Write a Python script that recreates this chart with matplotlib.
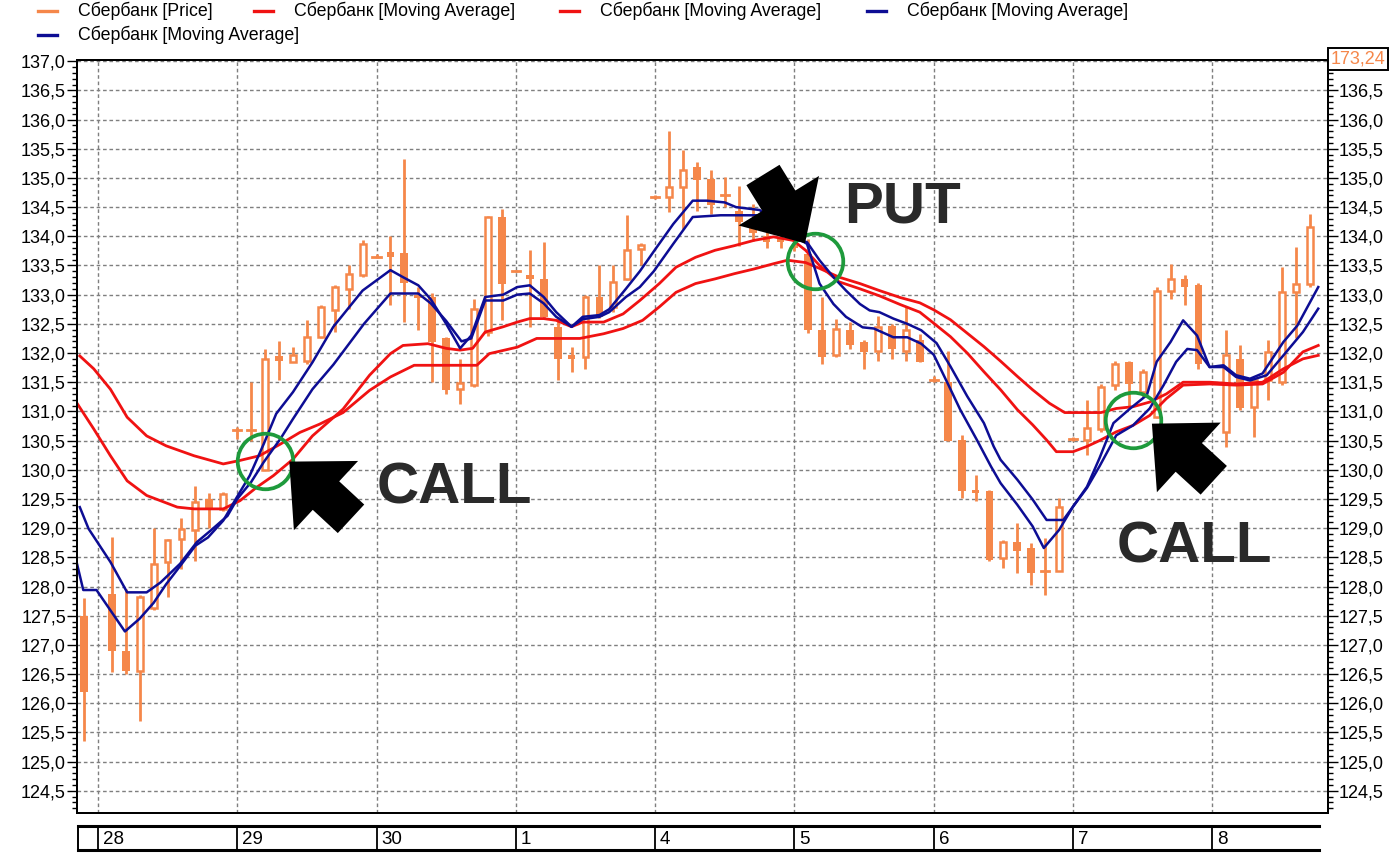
import matplotlib
matplotlib.use('Agg')
import matplotlib.pyplot as plt
from matplotlib.patches import Rectangle
from matplotlib.lines import Line2D
from matplotlib.ticker import MultipleLocator, FuncFormatter

plt.rcParams['font.family'] = ['Liberation Sans', 'DejaVu Sans']

# ---- data (hourly candles, index = bar number) ----
opens = [127.50, None, 127.87, 126.90, 126.56, 127.64, 128.42, 128.82, 128.96, 129.50,
         129.33, 130.68, 130.68, 130.00, 131.95, 131.84, 131.87, 132.27, 132.73, 133.10,
         133.33, 133.65, 133.73, 133.71, 133.00, 132.96, 132.25, 131.39, 131.45, 132.36,
         134.33, 133.40, 133.33, 133.27, 132.45, 131.96, 131.93, 132.96, 132.79, 133.27,
         133.78, 134.67, 134.67, 134.85, 135.18, 134.98, 134.70, 134.44, 134.30, 134.00,
         133.95, 133.85, 133.70, 132.39, 131.96, 132.39, 132.19, 132.04, 132.47, 132.04,
         132.22, 131.54, 131.51, 130.51, 129.66, 129.63, 128.49, 128.77, 128.66, 128.26,
         128.26, 130.53, 130.51, 130.70, 131.45, 131.85, 131.33, 130.90, 133.07, 133.27,
         133.16, None, 130.65, 131.90, 131.08, 131.53, 131.50, 133.04, 133.19]
highs = [127.80, None, 128.85, 127.95, 127.85, 129.00, 128.82, 129.17, 129.73, 129.61,
         129.62, 130.73, 131.50, 132.07, 132.20, 132.10, 132.56, 132.82, 133.16, 133.50,
         133.94, 133.70, 134.00, 135.33, 133.13, 133.02, 132.28, 131.90, 132.93, 134.35,
         134.47, 133.42, 133.76, 133.90, 132.62, 132.10, 133.00, 133.50, 133.50, 134.36,
         133.88, 134.70, 135.81, 135.48, 135.27, 135.13, 135.01, 134.87, 134.55, 134.10,
         134.05, 133.95, 133.95, 132.96, 132.59, 132.53, 132.22, 132.64, 132.50, 132.79,
         132.33, 131.60, 132.03, 130.60, 129.91, 129.65, 128.80, 129.09, 128.74, 128.83,
         129.51, 130.57, 131.20, 131.47, 131.87, 131.87, 131.73, 133.13, 133.53, 133.33,
         133.20, None, 132.39, 132.13, 131.56, 132.22, 133.47, 133.81, 134.39]
lows = [125.35, None, 126.53, 126.50, 125.70, 127.60, 127.82, 128.30, 128.44, 129.00,
        129.30, 130.53, 130.50, 130.00, 131.53, 131.84, 131.82, 132.25, 132.36, 132.76,
        133.30, 133.62, 132.82, 132.53, 132.39, 131.50, 131.30, 131.13, 131.42, 132.30,
        132.56, 133.38, 132.45, 132.60, 131.53, 131.68, 131.73, 132.60, 132.70, 133.25,
        133.50, 134.64, 134.42, 134.13, 134.44, 134.38, 134.50, 133.84, 133.92, 133.80,
        133.80, 133.75, 132.35, 131.82, 131.93, 132.07, 131.73, 131.87, 131.90, 131.87,
        131.84, 131.50, 130.49, 129.51, 129.46, 128.43, 128.32, 128.23, 128.03, 127.86,
        128.26, 130.50, 130.26, 130.65, 131.36, 131.10, 131.25, 130.88, 132.93, 132.82,
        131.73, None, 130.39, 131.02, 130.56, 131.19, 131.45, 132.25, 133.13]
closes = [126.20, None, 126.90, 126.55, 127.82, 128.38, 128.80, 128.99, 129.44, 129.33,
          129.59, 130.68, 130.67, 131.89, 131.86, 131.96, 132.27, 132.78, 133.13, 133.36,
          133.87, 133.65, 133.65, 133.20, 132.95, 132.19, 131.36, 131.48, 132.76, 134.33,
          133.19, 133.40, 133.27, 132.62, 131.90, 131.90, 132.96, 132.62, 133.22, 133.76,
          133.85, 134.67, 134.84, 135.14, 134.96, 134.53, 134.68, 134.24, 134.05, 133.90,
          133.90, 133.80, 132.39, 131.93, 132.41, 132.13, 132.02, 132.44, 132.07, 132.39,
          131.84, 131.54, 130.49, 129.63, 129.60, 128.46, 128.77, 128.60, 128.23, 128.26,
          129.37, 130.53, 130.71, 131.42, 131.82, 131.47, 131.67, 133.07, 133.27, 133.13,
          131.82, None, 131.96, 131.05, 131.53, 132.02, 133.04, 133.19, 134.16]

# moving averages, read at bar positions
red_slow_x = [-0.3, 0.7, 1.9, 3.1, 4.5, 5.9, 7.9, 10.0, 11.2, 12.6, 14.1, 15.5, 16.9, 18.6,
              20.5, 22.0, 23.7, 26.3, 28.2, 29.1, 31.1, 32.5, 35.6, 37.3, 38.7, 40.1, 41.3,
              42.5, 43.9, 45.3, 46.7, 48.1, 49.5, 50.5, 51.8, 52.8, 54.2, 55.7, 57.1, 58.6,
              60.0, 61.0, 62.2, 63.4, 64.6, 65.8, 67.0, 68.1, 69.3, 70.4, 73.0, 74.1, 75.3,
              76.5, 77.7, 78.9, 80.8, 82.7, 84.6, 86.1, 87.5, 88.6]
red_slow_y = [131.95, 131.73, 131.38, 130.90, 130.58, 130.41, 130.24, 130.10, 130.16, 130.24,
              130.44, 130.64, 130.78, 130.98, 131.36, 131.59, 131.79, 131.79, 131.79, 131.99,
              132.10, 132.25, 132.25, 132.33, 132.42, 132.56, 132.79, 133.04, 133.19, 133.27,
              133.36, 133.44, 133.53, 133.59, 133.55, 133.45, 133.30, 133.19, 133.07, 132.95,
              132.86, 132.74, 132.57, 132.34, 132.11, 131.86, 131.60, 131.37, 131.14, 130.98,
              130.98, 131.05, 131.08, 131.16, 131.30, 131.50, 131.50, 131.47, 131.50, 131.73,
              131.90, 131.96]
red_fast_x = [-0.5, 0.7, 1.9, 3.1, 4.5, 6.7, 7.9, 10.0, 11.2, 12.4, 13.6, 15.0, 16.4, 18.6,
              20.5, 22.0, 22.9, 24.7, 26.0, 27.0, 27.9, 28.8, 30.1, 31.1, 32.0, 33.0, 33.9,
              35.0, 35.8, 37.3, 38.7, 39.9, 41.3, 42.5, 43.9, 45.3, 46.7, 48.1, 49.5, 50.9,
              51.8, 52.8, 54.2, 55.7, 57.1, 58.6, 60.0, 61.0, 62.2, 63.4, 64.6, 65.8, 67.0,
              68.1, 69.1, 69.8, 71.0, 72.0, 72.9, 74.1, 75.3, 76.5, 77.7, 78.9, 80.8, 82.7,
              84.6, 86.1, 87.5, 88.6]
red_fast_y = [131.14, 130.70, 130.24, 129.81, 129.56, 129.36, 129.33, 129.33, 129.47, 129.70,
              129.90, 130.18, 130.58, 131.04, 131.62, 131.99, 132.13, 132.16, 132.08, 132.05,
              132.08, 132.36, 132.45, 132.53, 132.59, 132.59, 132.56, 132.45, 132.53, 132.53,
              132.67, 132.90, 133.19, 133.47, 133.64, 133.76, 133.84, 133.93, 133.99, 133.93,
              133.76, 133.50, 133.22, 133.10, 132.98, 132.83, 132.70, 132.51, 132.28, 132.00,
              131.68, 131.37, 131.03, 130.77, 130.51, 130.31, 130.31, 130.40, 130.50, 130.65,
              130.76, 130.93, 131.22, 131.45, 131.47, 131.45, 131.47, 131.67, 132.02, 132.13]
blue_fast_x = [-0.5, -0.05, 0.9, 2.94, 4.0, 5.0, 5.9, 6.9, 8.0, 8.9, 10.0, 10.9, 11.9, 12.9,
               13.8, 15.0, 16.4, 17.9, 20.0, 22.0, 22.9, 24.0, 24.9, 26.0, 27.0, 27.8, 28.8,
               30.1, 31.1, 32.0, 33.0, 33.9, 35.0, 35.8, 37.0, 37.7, 38.9, 39.9, 40.9, 42.3,
               43.7, 44.7, 46.0, 46.8, 48.5, 51.0, 51.9, 52.8, 53.8, 54.7, 55.9, 56.7, 58.1,
               59.1, 60.1, 61.0, 62.0, 62.9, 64.1, 65.1, 65.8, 67.0, 68.1, 68.9, 70.0, 71.0,
               72.0, 72.9, 73.9, 75.1, 76.3, 77.0, 78.0, 78.9, 79.9, 80.8, 81.8, 82.7, 83.7,
               84.6, 86.1, 87.1, 88.6]
blue_fast_y = [128.39, 127.94, 127.94, 127.23, 127.45, 127.72, 128.04, 128.35, 128.70, 128.84,
               129.13, 129.50, 129.90, 130.44, 130.96, 131.33, 131.84, 132.45, 133.07, 133.42,
               133.30, 133.16, 132.92, 132.50, 132.08, 132.30, 132.96, 133.00, 133.13, 133.16,
               132.96, 132.70, 132.45, 132.62, 132.65, 132.75, 133.10, 133.40, 133.74, 134.21,
               134.61, 134.61, 134.58, 134.50, 134.45, 134.00, 133.87, 133.19, 132.84, 132.62,
               132.44, 132.42, 132.27, 132.27, 132.16, 131.97, 131.48, 131.03, 130.51, 130.06,
               129.77, 129.40, 129.03, 128.66, 128.97, 129.37, 129.71, 130.20, 130.80, 131.05,
               131.28, 131.85, 132.19, 132.56, 132.30, 131.76, 131.79, 131.62, 131.56, 131.65,
               132.19, 132.47, 133.13]
blue_slow_x = [-0.3, 0.33, 1.9, 3.1, 4.5, 5.5, 6.9, 8.1, 9.1, 10.3, 11.0, 12.0, 12.9, 14.1,
               15.0, 16.4, 17.9, 20.1, 22.0, 24.0, 24.9, 26.0, 27.1, 27.8, 28.8, 30.1, 31.1,
               32.0, 33.0, 33.9, 35.0, 35.8, 37.0, 37.7, 38.9, 39.9, 40.9, 42.3, 43.7, 45.7,
               48.5, 51.0, 51.9, 52.8, 53.8, 54.7, 55.7, 56.4, 57.1, 58.1, 59.1, 60.1, 61.2,
               62.2, 63.4, 64.6, 65.3, 65.8, 67.0, 68.1, 69.1, 70.3, 71.0, 72.0, 72.9, 74.1,
               75.3, 76.5, 77.5, 78.4, 79.2, 79.9, 80.8, 81.8, 82.7, 83.7, 84.9, 86.1, 87.5,
               88.6]
blue_slow_y = [129.36, 128.99, 128.42, 127.90, 127.90, 128.07, 128.39, 128.76, 128.96, 129.21,
               129.50, 129.79, 130.13, 130.53, 130.87, 131.38, 131.80, 132.50, 133.02, 133.02,
               132.85, 132.55, 132.20, 132.25, 132.90, 132.90, 133.00, 133.02, 132.85, 132.62,
               132.45, 132.58, 132.62, 132.70, 132.96, 133.13, 133.40, 133.87, 134.33, 134.36,
               134.36, 133.95, 133.90, 133.59, 133.30, 133.07, 132.84, 132.73, 132.70, 132.59,
               132.50, 132.39, 132.17, 131.77, 131.26, 130.80, 130.40, 130.17, 129.83, 129.49,
               129.14, 129.14, 129.37, 129.69, 130.06, 130.59, 130.76, 131.05, 131.45, 131.85,
               132.07, 132.05, 131.76, 131.76, 131.59, 131.53, 131.62, 131.96, 132.36, 132.76]

day_labels = ['28', '29', '30', '1', '4', '5', '6', '7', '8']
day_start = [1, 11, 21, 31, 41, 51, 61, 71, 81]

series_labels = ['Сбербанк [Price]', 'Сбербанк [Moving Average]', 'Сбербанк [Moving Average]',
                 'Сбербанк [Moving Average]', 'Сбербанк [Moving Average]']
last_price = '173,24'

# signals: (kind, circle x, circle y, arrow tip, arrow tail, text pos)
signals = [
    ('CALL', 13.0, 130.15, (14.74, 130.14), (19.17, 129.16), (21.0, 129.43)),
    ('PUT', 52.5, 133.58, (51.76, 133.88), (48.74, 135.05), (54.6, 134.23)),
    ('CALL', 75.3, 130.85, (76.66, 130.79), (81.1, 129.82), (74.15, 128.42)),
]

ORANGE = '#f5874a'
RED = '#f01212'
BLUE = '#0d0d94'
GRID = '#7f7f7f'

W, H = 1399, 855
fig = plt.figure(figsize=(W / 100, H / 100), dpi=100)


def fx(px):
    return px / W


def fy(py):
    return 1 - py / H


ax = fig.add_axes([fx(77), fy(813), fx(1328) - fx(77), fy(60) - fy(813)])
XMIN, XMAX = -0.5, 89.3
YMIN, YMAX = 124.12, 137.02
ax.set_xlim(XMIN, XMAX)
ax.set_ylim(YMIN, YMAX)

# grid
for v in [124.5 + 0.5 * k for k in range(26)]:
    ax.axhline(v, color=GRID, lw=1.0, dashes=(2.6, 2.0), zorder=1)
for d in day_start:
    ax.axvline(d, color=GRID, lw=1.0, dashes=(2.6, 2.0), zorder=1)

# candles
for i, (o, h, l, c) in enumerate(zip(opens, highs, lows, closes)):
    if o is None:
        continue
    ax.plot([i, i], [l, h], color=ORANGE, lw=2.0, solid_capstyle='butt', zorder=3)
    if abs(c - o) < 0.04:
        ax.plot([i - 0.3, i + 0.3], [o, o], color=ORANGE, lw=2.0, zorder=4)
    elif c > o:
        ax.add_patch(Rectangle((i - 0.21, o), 0.42, c - o, facecolor='white',
                               edgecolor=ORANGE, lw=1.8, zorder=4))
    else:
        ax.add_patch(Rectangle((i - 0.28, c), 0.56, o - c, facecolor=ORANGE,
                               edgecolor='none', zorder=4))

# moving averages
ax.plot(red_slow_x, red_slow_y, color=RED, lw=2.0, zorder=5)
ax.plot(red_fast_x, red_fast_y, color=RED, lw=2.0, zorder=5)
ax.plot(blue_slow_x, blue_slow_y, color=BLUE, lw=1.8, zorder=6)
ax.plot(blue_fast_x, blue_fast_y, color=BLUE, lw=1.8, zorder=6)

# signals
for kind, cx, cy, tip, tail, tpos in signals:
    ax.plot([cx], [cy], marker='o', ms=40, mfc='none', mec='#1e9a3c', mew=2.7, zorder=7)
    ax.annotate('', xy=tip, xytext=tail, zorder=8,
                arrowprops=dict(arrowstyle='simple,head_length=3.6,head_width=6.8,tail_width=2.8',
                                mutation_scale=10, fc='black', ec='black', lw=0,
                                shrinkA=0, shrinkB=0))
    ax.text(tpos[0], tpos[1], kind, fontsize=42, fontweight='bold', color='#2a2a2a',
            ha='left', va='baseline', zorder=9)


def comma_fmt(v, _):
    return f'{v:.1f}'.replace('.', ',')


def comma_fmt_right(v, _):
    if abs(v - 137.0) < 1e-6:
        return ''
    return comma_fmt(v, _)


for a, side in ((ax, 'left'), (ax.twinx(), 'right')):
    a.set_ylim(YMIN, YMAX)
    a.yaxis.set_major_locator(MultipleLocator(0.5))
    a.yaxis.set_minor_locator(MultipleLocator(0.1))
    a.yaxis.set_major_formatter(FuncFormatter(comma_fmt if side == 'left' else comma_fmt_right))
    a.tick_params(axis='y', which='major', direction='out', length=7, width=1, pad=1,
                  labelsize=13)
    a.tick_params(axis='y', which='minor', direction='out', length=3.5, width=1)
    for s in a.spines.values():
        s.set_linewidth(1.4)
ax.set_xticks([])

fig.text(fx(1358), fy(59), last_price, color=ORANGE, fontsize=13, ha='center', va='center',
         bbox=dict(boxstyle='square,pad=0.15', fc='white', ec='black', lw=1.4))

# date strip
px_per_bar = (1328 - 77) / (XMAX - XMIN)
axd = fig.add_axes([fx(78), fy(850), fx(1319) - fx(78), fy(826) - fy(850)])
axd.set_xlim(XMIN + 1 / px_per_bar, XMIN + (1319 - 77) / px_per_bar)
axd.set_ylim(0, 1)
axd.set_xticks([])
axd.set_yticks([])
axd.spines['right'].set_visible(False)
axd.spines['top'].set_linewidth(2.2)
axd.spines['bottom'].set_linewidth(2.2)
axd.spines['left'].set_linewidth(1.4)
for d, lab in zip(day_start, day_labels):
    axd.axvline(d, color='black', lw=1.3)
    axd.text(d + 0.35, 0.45, lab, ha='left', va='center', fontsize=13.5)

# legend
legend_colors = [ORANGE, RED, RED, BLUE, BLUE]
legend_pos = [(38, 11), (254, 11), (560, 11), (867, 11), (38, 35)]
for lab, col, (lx, ly) in zip(series_labels, legend_colors, legend_pos):
    fig.add_artist(Line2D([fx(lx), fx(lx + 19)], [fy(ly), fy(ly)], transform=fig.transFigure,
                          color=col, lw=2.4))
    fig.text(fx(lx + 40), fy(ly), lab, fontsize=12.8, ha='left', va='center')

fig.savefig('out.png', dpi=100, facecolor='white')
